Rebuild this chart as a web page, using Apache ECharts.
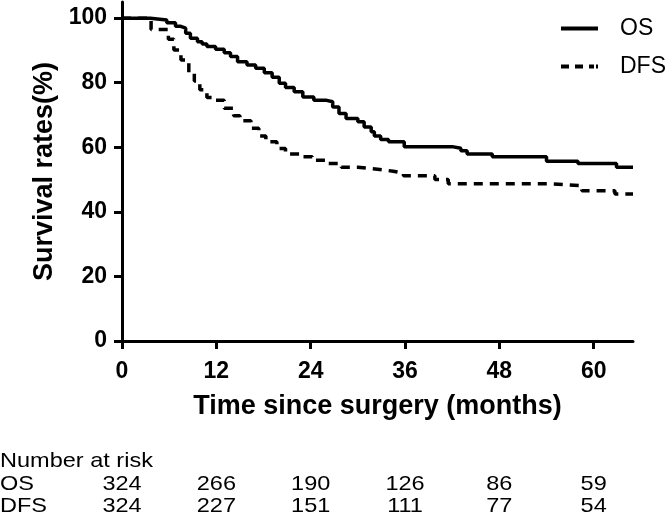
<!DOCTYPE html>
<html><head><meta charset="utf-8">
<script src="https://cdn.jsdelivr.net/npm/echarts@6/dist/echarts.min.js"></script>
<style>html,body{margin:0;padding:0;background:#fff}#c{width:669px;height:518px}</style>
</head><body><div id="c"></div>
<script>
// Kaplan-Meier curves (months, survival %)
const osTime = [0,3.6,5.7,6.8,7.4,8.1,8.7,9.6,10.2,10.8,11.9,13.0,13.8,14.7,15.9,17.0,18.1,19.1,20.0,20.8,21.9,23.0,24.4,25.9,26.8,27.6,28.5,30.0,30.8,31.7,32.1,32.9,33.9,35.9,42.0,43.1,43.9,47.1,54.0,58.0,62.9,65];
const osSurv = [100,99.4,98.6,97.5,96.9,95.3,93.8,92.7,92.0,91.2,90.4,89.3,88.1,86.5,85.5,84.5,83.1,81.7,79.8,78.5,77.2,75.6,74.6,74.1,72.5,70.5,68.9,67.9,66.3,64.8,63.5,62.4,61.7,60.2,59.7,58.9,57.9,57.1,55.7,55.0,53.8,53.8];
const dfsTime = [0,3.7,5.9,6.6,7.5,8.5,9.2,9.9,10.8,11.7,13.0,14.2,15.0,16.4,17.4,18.3,19.7,20.8,22.6,24.2,26.2,27.9,30.0,32.5,34.5,35.8,39.8,41.5,54.2,58.5,62.7,65];
const dfsSurv = [100,96.5,93.5,90.1,87.0,83.0,80.5,77.8,75.4,74.6,72.1,69.8,68.2,65.9,63.5,61.7,59.6,57.9,57.1,56.0,55.0,53.8,53.2,52.6,52.0,51.2,50.0,48.7,48.1,46.5,45.5,45.5];
// axis ticks
const xTicks = [0,12,24,36,48,60];
const yTicks = [0,20,40,60,80,100];
// number at risk table
const riskMonths = [0,12,24,36,48,60];
const riskOS = [324,266,190,126,86,59];
const riskDFS = [324,227,151,111,77,54];
const seriesNames = ['OS','DFS'];

const FONT = "'Liberation Sans', Arial, Helvetica, sans-serif";
const zip = (a,b) => a.map((v,i)=>[v,b[i]]);
const chart = echarts.init(document.getElementById('c'), null, {renderer:'canvas'});
const axisCommon = {
  axisLine:{show:true, lineStyle:{color:'#000', width:3}},
  splitLine:{show:false},
  nameTextStyle:{fontFamily:FONT, fontWeight:'bold', fontSize:27, color:'#000'}
};
chart.setOption({
  animation:false,
  backgroundColor:'#fff',
  grid:{left:122, right:36, top:2, bottom:177, containLabel:false, outerBoundsMode:'none'},
  legend:{
    data:[
      {name:seriesNames[0], icon:'path://M0,0h37v4h-37z'},
      {name:seriesNames[1], icon:'path://M0,0h8v4h-8z M14,0h8v4h-8z M28,0h5v4h-5z M35,0h2v4h-2z'}
    ],
    orient:'vertical', left:556, top:12,
    itemWidth:37, itemHeight:4, itemGap:15,
    textStyle:{fontFamily:FONT, fontSize:23, color:'#000', padding:[0,0,0,17]}
  },
  xAxis:Object.assign({}, axisCommon, {
    type:'value', min:0, max:65,
    name:'Time since surgery (months)', nameLocation:'middle', nameGap:52,
    axisTick:{show:true, inside:false, length:8, lineStyle:{color:'#000', width:3}, customValues:xTicks},
    axisLabel:{customValues:xTicks, margin:19, fontFamily:FONT, fontWeight:'bold', fontSize:23, color:'#000'}
  }),
  yAxis:Object.assign({}, axisCommon, {
    type:'value', min:0, max:105,
    name:'Survival rates(%)', nameLocation:'middle', nameGap:57,
    axisTick:{show:true, inside:false, length:8, lineStyle:{color:'#000', width:3}, customValues:yTicks},
    axisLabel:{customValues:yTicks, margin:15, fontFamily:FONT, fontWeight:'bold', fontSize:23, color:'#000'}
  }),
  series:[
    {name:seriesNames[0], type:'line', step:'end', symbol:'none', data:zip(osTime, osSurv),
     lineStyle:{color:'#000', width:3.5, type:'solid'}, itemStyle:{color:'#000'}, z:3},
    {name:seriesNames[1], type:'line', step:'end', symbol:'none', data:zip(dfsTime, dfsSurv),
     lineStyle:{color:'#000', width:3.5, type:[9,7]}, itemStyle:{color:'#000'}, z:2}
  ]
});

const tStyle = (text, align) => ({text, fontFamily:FONT, fontSize:21, fill:'#000', align, verticalAlign:'middle'});
const SX = 1.12;
const rows = [{y:484, label:'OS', vals:riskOS}, {y:506, label:'DFS', vals:riskDFS}];
const g = [{type:'text', x:0, y:461, scaleX:SX, style:tStyle('Number at risk','left')}];
rows.forEach(r => {
  g.push({type:'text', x:0, y:r.y, scaleX:SX, style:tStyle(r.label,'left')});
  riskMonths.forEach((m,i) => {
    const px = chart.convertToPixel({xAxisIndex:0}, m);
    g.push({type:'text', x:px, y:r.y, scaleX:SX, style:tStyle(String(r.vals[i]),'center')});
  });
});
chart.setOption({graphic:g});
</script></body></html>
